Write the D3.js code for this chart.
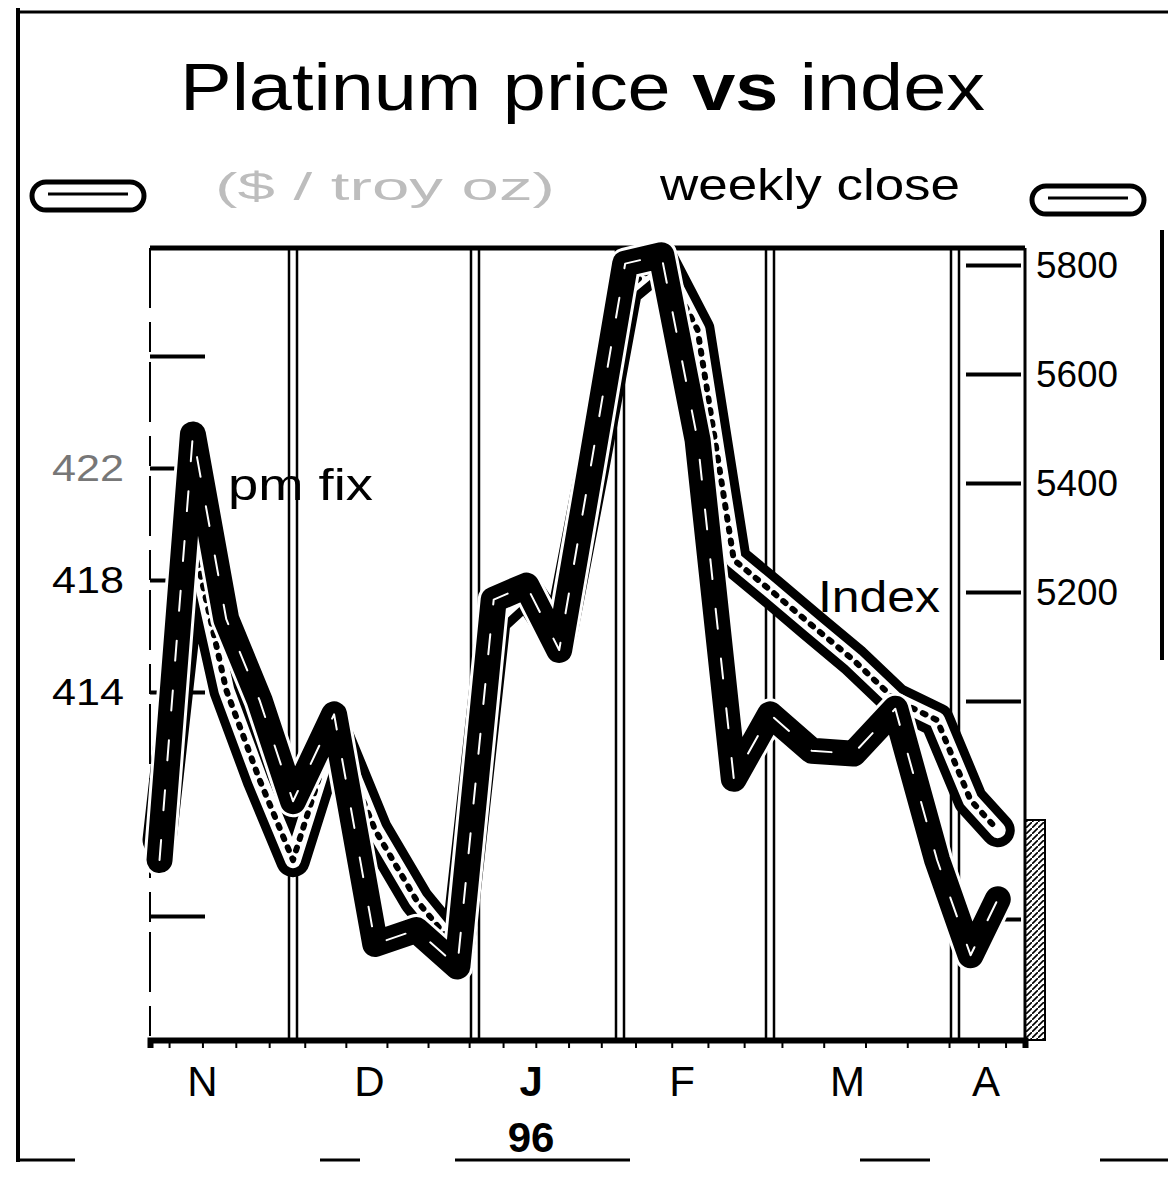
<!DOCTYPE html>
<html>
<head>
<meta charset="utf-8">
<script src="https://cdn.jsdelivr.net/npm/d3@7"></script>
<style>
	body { margin: 0; background: #fff; }
	svg { display: block; font-family: 'Liberation Sans', Arial, sans-serif; }
</style>
</head>
<body>
<svg id="chart" width="1168" height="1179"></svg>
<script>
const weeks = ['1995-11-03', '1995-11-10', '1995-11-17', '1995-11-24', '1995-12-01', '1995-12-08',
	'1995-12-15', '1995-12-22', '1995-12-29', '1996-01-05', '1996-01-12', '1996-01-19', '1996-01-26',
	'1996-02-02', '1996-02-09', '1996-02-16', '1996-02-23', '1996-03-01', '1996-03-08', '1996-03-15',
	'1996-03-22', '1996-03-29', '1996-04-05', '1996-04-12'];

// platinum pm fix, $/oz (left scale)
const pmFix = [408.0, 423.2, 416.6, 413.7, 410.1, 413.2, 405.0, 405.5, 404.2, 417.3, 417.8, 415.5,
	422.3, 429.3, 429.6, 423.0, 410.9, 413.2, 411.9, 411.8, 413.4, 408.0, 404.6, 406.6];

// index (right scale)
const index = [4745, 5295, 5020, 4855, 4708, 4947, 4763, 4635, 4543, 5149, 5204, 5112, 5424,
	5754, 5809, 5681, 5259, 5204, 5139, 5075, 5002, 4965, 4818, 4763];

const leftTicks = [426, 422, 418, 414, 406];
const leftLabels = ['422', '418', '414'];
const rightTicks = [5800, 5600, 5400, 5200, 5000, 4600];
const rightLabels = ['5800', '5600', '5400', '5200'];
const monthBreaks = ['1995-11-01', '1995-12-01', '1996-01-01', '1996-02-01', '1996-03-01', '1996-04-01', '1996-04-19'];
const monthLabels = [['1995-11-12', 'N'], ['1995-12-14', 'D'], ['1996-01-13', 'J'],
	['1996-02-13', 'F'], ['1996-03-14', 'M'], ['1996-04-09', 'A']];

const PLOT = { left: 150, right: 1025, top: 248, bottom: 1040 };
const parse = d3.timeParse('%Y-%m-%d');

const $svg = d3.select('#chart');

const x = d3.scaleTime()
	.domain(monthBreaks.map(parse))
	.range([150, 293, 475, 620, 770, 955, 1025]);

const yLeft = d3.scaleLinear().domain([406, 426]).range([916, 356]);
const yRight = d3.scaleLinear().domain([4600, 5800]).range([919, 265]);

function drawFrame() {
	// outer page frame (scan edges)
	$svg.append('line').attr('x1', 18).attr('x2', 18).attr('y1', 8).attr('y2', 1162)
		.attr('stroke', '#000').attr('stroke-width', 4);
	$svg.append('line').attr('x1', 18).attr('x2', 1168).attr('y1', 12).attr('y2', 12)
		.attr('stroke', '#000').attr('stroke-width', 3);
	$svg.append('line').attr('x1', 1162).attr('x2', 1162).attr('y1', 230).attr('y2', 660)
		.attr('stroke', '#000').attr('stroke-width', 4);
	[[20, 75], [320, 360], [455, 630], [860, 930], [1100, 1168]].forEach(([a, b]) => {
		$svg.append('line').attr('x1', a).attr('x2', b).attr('y1', 1160).attr('y2', 1160)
			.attr('stroke', '#000').attr('stroke-width', 3);
	});

	$svg.append('text')
		.attr('x', 180).attr('y', 110)
		.attr('font-size', 66)
		.attr('textLength', 805).attr('lengthAdjust', 'spacingAndGlyphs')
		.call(t => {
			t.append('tspan').text('Platinum price ');
			t.append('tspan').attr('font-weight', 'bold').text('vs');
			t.append('tspan').text(' index');
		});

	$svg.append('text')
		.attr('x', 215).attr('y', 200)
		.attr('font-size', 38).attr('fill', '#bdbdbd')
		.attr('textLength', 340).attr('lengthAdjust', 'spacingAndGlyphs')
		.text('($ / troy oz)');
	$svg.append('text')
		.attr('x', 660).attr('y', 200)
		.attr('font-size', 44)
		.attr('textLength', 300).attr('lengthAdjust', 'spacingAndGlyphs')
		.text('weekly close');

	// scale badges
	[[32, 196], [1032, 200]].forEach(([bx, by]) => {
		$svg.append('rect').attr('x', bx).attr('y', by - 14).attr('width', 112).attr('height', 28)
			.attr('rx', 14).attr('fill', '#fff').attr('stroke', '#000').attr('stroke-width', 5);
		$svg.append('line').attr('x1', bx + 16).attr('x2', bx + 96).attr('y1', by - 2).attr('y2', by - 2)
			.attr('stroke', '#000').attr('stroke-width', 3);
	});
}

function drawAxes() {
	const defs = $svg.append('defs');
	const pat = defs.append('pattern').attr('id', 'hatch').attr('width', 6).attr('height', 6)
		.attr('patternUnits', 'userSpaceOnUse');
	pat.append('rect').attr('width', 6).attr('height', 6).attr('fill', '#fff');
	pat.append('path').attr('d', 'M0,6 L6,0').attr('stroke', '#000').attr('stroke-width', 1.6);
	$svg.append('rect').attr('x', PLOT.right).attr('y', 820).attr('width', 20).attr('height', PLOT.bottom - 820)
		.attr('fill', 'url(#hatch)').attr('stroke', '#000').attr('stroke-width', 2);

	// plot frame
	$svg.append('line').attr('x1', PLOT.left).attr('x2', PLOT.right).attr('y1', PLOT.top).attr('y2', PLOT.top)
		.attr('stroke', '#000').attr('stroke-width', 5);
	$svg.append('line').attr('x1', PLOT.left).attr('x2', PLOT.left).attr('y1', PLOT.top).attr('y2', PLOT.bottom)
		.attr('stroke', '#000').attr('stroke-width', 2).attr('stroke-dasharray', '60 14 30 10');
	$svg.append('line').attr('x1', PLOT.right).attr('x2', PLOT.right).attr('y1', PLOT.top).attr('y2', PLOT.bottom)
		.attr('stroke', '#000').attr('stroke-width', 3);

	// month boundaries as double rules
	monthBreaks.slice(1, -1).map(parse).forEach(d => {
		[-4, 4].forEach(o => {
			$svg.append('line').attr('x1', x(d) + o).attr('x2', x(d) + o)
				.attr('y1', PLOT.top).attr('y2', PLOT.bottom)
				.attr('stroke', '#000').attr('stroke-width', 2.5);
		});
	});

	const axisL = d3.axisRight(yLeft).tickValues(leftTicks).tickSize(55).tickFormat('');
	$svg.append('g').attr('transform', `translate(${PLOT.left},0)`).call(axisL)
		.call(g => g.select('.domain').remove())
		.call(g => g.selectAll('line').attr('stroke-width', 4));

	const axisR = d3.axisLeft(yRight).tickValues(rightTicks).tickSize(55).tickFormat('');
	$svg.append('g').attr('transform', `translate(${PLOT.right - 4},0)`).call(axisR)
		.call(g => g.select('.domain').remove())
		.call(g => g.selectAll('line').attr('stroke-width', 4));

	$svg.selectAll('.lab-l').data(leftLabels).enter().append('text')
		.attr('x', 124).attr('y', d => yLeft(+d) + 13)
		.attr('text-anchor', 'end').attr('font-size', 36)
		.attr('fill', (d, i) => (i === 0 ? '#777' : '#000'))
		.attr('textLength', 72).attr('lengthAdjust', 'spacingAndGlyphs')
		.text(d => d);

	$svg.selectAll('.lab-r').data(rightLabels).enter().append('text')
		.attr('x', 1036).attr('y', d => yRight(+d) + 13)
		.attr('font-size', 36)
		.attr('textLength', 82).attr('lengthAdjust', 'spacingAndGlyphs')
		.text(d => d);

	// bottom time axis
	const axisB = d3.axisBottom(x)
		.ticks(d3.timeWeek.every(1)).tickSize(8).tickFormat('');
	$svg.append('g').attr('transform', `translate(0,${PLOT.bottom})`).call(axisB)
		.call(g => g.select('.domain').attr('stroke-width', 6))
		.call(g => g.selectAll('line').attr('stroke-width', 2));

	$svg.selectAll('.month').data(monthLabels).enter().append('text')
		.attr('x', d => x(parse(d[0]))).attr('y', 1096)
		.attr('text-anchor', 'middle').attr('font-size', 42)
		.attr('font-weight', d => (d[1] === 'J' ? 'bold' : 'normal'))
		.text(d => d[1]);

	$svg.append('text').attr('x', x(parse('1996-01-13'))).attr('y', 1152)
		.attr('text-anchor', 'middle').attr('font-size', 42).attr('font-weight', 'bold')
		.text('96');
}

function drawLines() {
	const dates = weeks.map(parse);

	const lineIdx = d3.line()
		.x((d, i) => x(dates[i]))
		.y(d => yRight(d));
	const linePm = d3.line()
		.x((d, i) => x(dates[i]))
		.y(d => yLeft(d));

	const $lines = $svg.append('g').attr('fill', 'none')
		.attr('stroke-linejoin', 'round').attr('stroke-linecap', 'round');

	// index: hollow band with dotted core
	$lines.append('path').attr('d', lineIdx(index)).attr('stroke', '#000').attr('stroke-width', 34);
	$lines.append('path').attr('d', lineIdx(index)).attr('stroke', '#fff').attr('stroke-width', 16);
	$lines.append('path').attr('d', lineIdx(index)).attr('stroke', '#000').attr('stroke-width', 6)
		.attr('stroke-dasharray', '3 9');

	// pm fix: heavy solid line
	$lines.append('path').attr('d', linePm(pmFix)).attr('stroke', '#fff').attr('stroke-width', 32);
	$lines.append('path').attr('d', linePm(pmFix)).attr('stroke', '#000').attr('stroke-width', 26);
	$lines.append('path').attr('d', linePm(pmFix)).attr('stroke', '#fff').attr('stroke-width', 2)
		.attr('stroke-dasharray', '20 30');

	$svg.append('text').attr('x', 228).attr('y', 500)
		.attr('font-size', 44)
		.attr('textLength', 145).attr('lengthAdjust', 'spacingAndGlyphs')
		.text('pm fix');
	$svg.append('text').attr('x', 818).attr('y', 612)
		.attr('font-size', 44)
		.attr('textLength', 122).attr('lengthAdjust', 'spacingAndGlyphs')
		.text('Index');
}

drawFrame();
drawAxes();
drawLines();
</script>
</body>
</html>
